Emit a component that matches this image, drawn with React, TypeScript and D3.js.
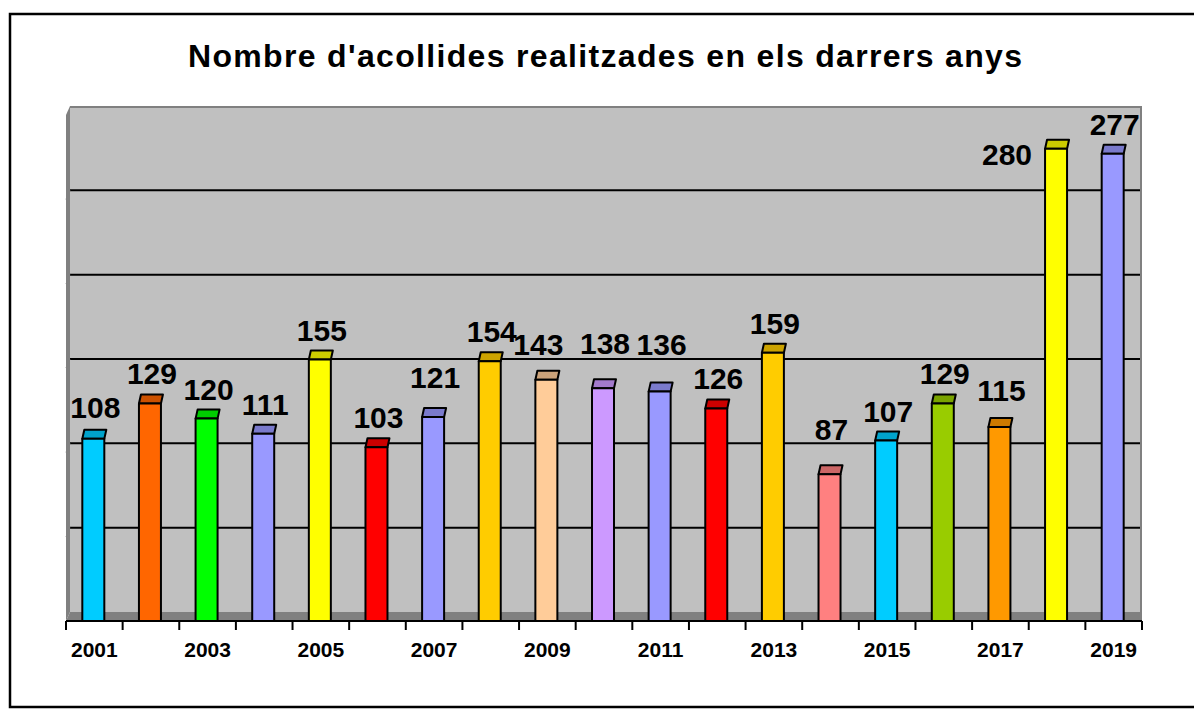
import React from "react";
import * as d3 from "d3";

const years = ["2001", "2002", "2003", "2004", "2005", "2006", "2007", "2008", "2009", "2010",
  "2011", "2012", "2013", "2014", "2015", "2016", "2017", "2018", "2019"];
const values = [108, 129, 120, 111, 155, 103, 121, 154, 143, 138, 136, 126, 159, 87, 107, 129, 115, 280, 277];
const barColors = ["#00CCFF", "#FF6600", "#00FF00", "#9999FF", "#FFFF00", "#FF0000", "#9999FF", "#FFCC00",
  "#FFCC99", "#CC99FF", "#9999FF", "#FF0000", "#FFCC00", "#FF8080", "#00CCFF", "#99CC00", "#FF9900",
  "#FFFF00", "#9999FF"];
const tickLabels = ["2001", "2003", "2005", "2007", "2009", "2011", "2013", "2015", "2017", "2019"];
const gridValues = [50, 100, 150, 200, 250];
const title = "Nombre d'acollides realitzades en els darrers anys";

const width = 1194;
const height = 710;
const plot = { left: 66, right: 1142, top: 106, base: 612 };
const depth = { dx: 4, dy: 9 };
const barW = 22;
const font = "'Liberation Sans', Arial, sans-serif";

// hand-placed labels in the original
const labelNudge: Record<string, { dx: number; dy: number }> = {
  "2001": { dx: 0, dy: -2 },
  "2007": { dx: 0, dy: -10 },
  "2009": { dx: -10, dy: -6 },
  "2010": { dx: 0, dy: -15 },
  "2011": { dx: 0, dy: -18 },
  "2014": { dx: 0, dy: -15 },
  "2017": { dx: 0, dy: -7 },
};

export default function App() {
  const x = d3.scaleBand().domain(years).range([plot.left, plot.right]);
  const y = d3.scaleLinear().domain([0, 300]).range([plot.base, plot.top]);
  const front = plot.base + depth.dy;
  const step = x.step();

  return (
    <svg width={width} height={height} style={{ position: "absolute", left: 0, top: 0, background: "#fff" }}>
      <rect x={10} y={14} width={1200} height={693} fill="none" stroke="#000" strokeWidth={2.5} />
      <text x={605} y={67} textAnchor="middle" fontFamily={font} fontWeight="bold" fontSize={32}
        textLength={834} lengthAdjust="spacing">{title}</text>

      {/* back wall */}
      <rect x={plot.left + depth.dx} y={plot.top} width={plot.right - plot.left - depth.dx}
        height={plot.base - plot.top} fill="#C0C0C0" />
      {/* left wall */}
      <polygon points={`${plot.left},${plot.top + depth.dy} ${plot.left + depth.dx},${plot.top} ${plot.left + depth.dx},${plot.base} ${plot.left},${front}`}
        fill="#808080" />
      {/* floor */}
      <polygon points={`${plot.left},${front} ${plot.left + depth.dx},${plot.base} ${plot.right},${plot.base} ${plot.right},${front}`}
        fill="#808080" />
      <line x1={plot.left + depth.dx} x2={plot.right} y1={plot.top + 1} y2={plot.top + 1} stroke="#808080" strokeWidth={2} />
      <line x1={plot.right - 1} x2={plot.right - 1} y1={plot.top} y2={front} stroke="#808080" strokeWidth={2} />

      {gridValues.map(v => (
        <g key={v}>
          <line x1={plot.left + depth.dx} x2={plot.right - 2} y1={y(v)} y2={y(v)} stroke="#000" strokeWidth={2} />
          <line x1={plot.left} x2={plot.left + depth.dx} y1={y(v) + depth.dy} y2={y(v)} stroke="#808080" strokeWidth={1} />
        </g>
      ))}

      {years.map((yr, i) => {
        const cx = (x(yr) as number) + step / 2;
        const x0 = cx - barW / 2 - 1;
        const yTop = y(values[i]) + depth.dy;
        const topFill = d3.color(barColors[i])!.darker(0.63).formatHex();
        const bdx = 2;
        return (
          <g key={yr} stroke="#000" strokeWidth={2} strokeLinejoin="round">
            <polygon points={`${x0},${yTop} ${x0 + bdx},${yTop - depth.dy} ${x0 + barW + bdx},${yTop - depth.dy} ${x0 + barW},${yTop}`}
              fill={topFill} />
            <rect x={x0} y={yTop} width={barW} height={front - yTop} fill={barColors[i]} />
          </g>
        );
      })}

      {years.map((yr, i) => {
        const cx = (x(yr) as number) + step / 2 + 1;
        const base = y(values[i]) - 10;
        const n = labelNudge[yr];
        let lx = cx + (n ? n.dx : 0);
        let ly = base + (n ? n.dy : 0);
        let anchor = "middle";
        if (yr === "2018") {
          // placed to the left of the bar
          lx = cx - 26;
          ly = y(values[i]) + 25;
          anchor = "end";
        }
        return (
          <text key={yr} x={lx} y={ly} textAnchor={anchor} fontFamily={font} fontWeight="bold" fontSize={30}>
            {values[i]}
          </text>
        );
      })}

      {/* category axis */}
      <line x1={plot.left} x2={plot.right} y1={front} y2={front} stroke="#000" strokeWidth={2} />
      {d3.range(years.length + 1).map(k => (
        <line key={k} x1={plot.left + k * step} x2={plot.left + k * step} y1={front} y2={front + 9}
          stroke="#000" strokeWidth={2} />
      ))}
      {tickLabels.map(t => (
        <text key={t} x={(x(t) as number) + step / 2} y={657} textAnchor="middle" fontFamily={font}
          fontWeight="bold" fontSize={21}>{t}</text>
      ))}
    </svg>
  );
}
